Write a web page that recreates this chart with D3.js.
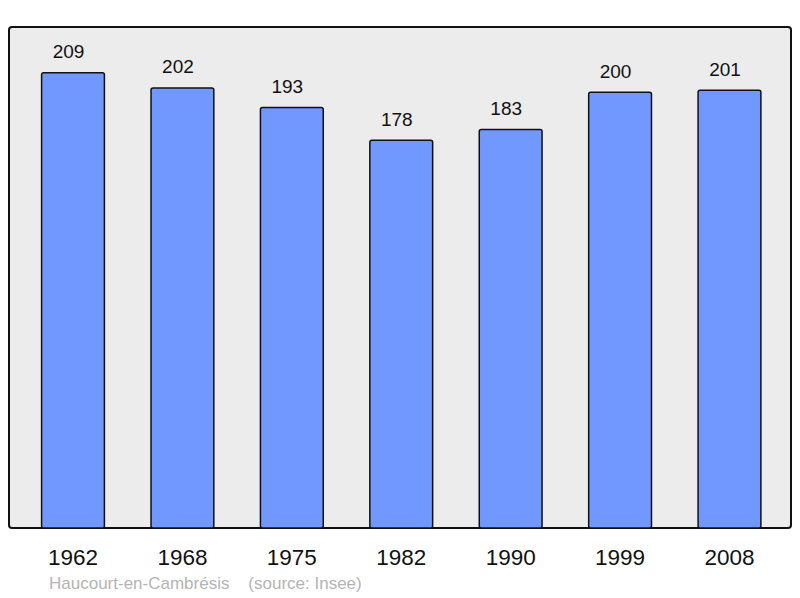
<!DOCTYPE html>
<html><head><meta charset="utf-8">
<script src="https://cdn.jsdelivr.net/npm/d3@7"></script>
<style>html,body{margin:0;padding:0;background:#fff}svg{display:block}</style>
</head><body>
<script>
const years = ["1962","1968","1975","1982","1990","1999","2008"];
const population = [209,202,193,178,183,200,201];
const footer = "Haucourt-en-Cambrésis    (source: Insee)";

const W = 800, H = 598;
const svg = d3.select("body").append("svg").attr("width", W).attr("height", H);
const font = "'Liberation Sans', Arial, sans-serif";

const frame = {x: 9, y: 27, w: 782, h: 501};
svg.append("rect").attr("x", frame.x).attr("y", frame.y).attr("width", frame.w).attr("height", frame.h)
  .attr("rx", 3).attr("fill", "#ececec").attr("stroke", "#111").attr("stroke-width", 2);

const x = d3.scaleBand().domain(years).range([18.3, 784.2]).paddingInner(0.426).paddingOuter(0.213);
const y = d3.scaleLinear().domain([0, 230]).range([528, 27]);

svg.selectAll("rect.bar").data(population).join("rect").attr("class","bar")
  .attr("x", (d,i) => x(years[i]))
  .attr("y", d => y(d))
  .attr("width", x.bandwidth())
  .attr("height", d => y(0) - y(d))
  .attr("rx", 2)
  .attr("fill", "#7098ff").attr("stroke", "#111").attr("stroke-width", 1.5);

svg.selectAll("text.val").data(population).join("text").attr("class","val")
  .attr("x", (d,i) => x(years[i]) + x.bandwidth()/2 - 4.5)
  .attr("y", d => y(d) - 14.5)
  .attr("text-anchor", "middle").attr("font-family", font).attr("font-size", 19).attr("fill", "#111")
  .text(d => d);

const axis = d3.axisBottom(x).tickSize(0).tickPadding(0);
const g = svg.append("g").attr("transform", "translate(0,0)").call(axis);
g.select(".domain").remove();
g.selectAll("text").attr("y", 565).attr("dy", null).attr("font-family", font).attr("font-size", 22.5).attr("fill", "#111");

svg.append("text").attr("x", 49).attr("y", 589).attr("font-family", font).attr("font-size", 17)
  .attr("fill", "#b4b4b4").attr("xml:space","preserve").style("white-space","pre").text(footer);
</script>
</body></html>
